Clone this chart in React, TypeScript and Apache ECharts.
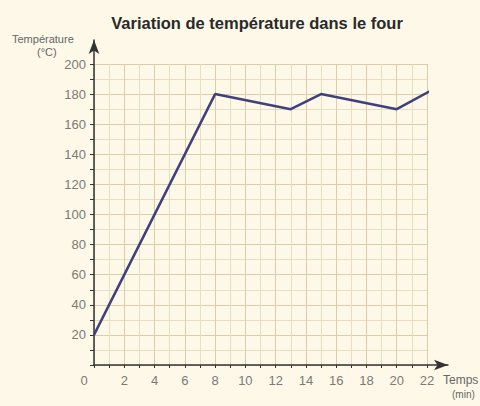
import React, { useEffect, useRef } from "react";
import * as echarts from "echarts";

const title = "Variation de température dans le four";
const yName = ["Température", "(°C)"];
const xName = ["Temps", "(min)"];
const timeMin = [0, 8, 13, 15, 20, 22.2];
const tempC = [20, 180, 170, 180, 170, 182];
const xMax = 22;
const yMax = 200;

const FONT = "'Liberation Sans Narrow', 'Arial Narrow', 'Liberation Sans', sans-serif";
const LABEL_COLOR = "#7a7a7a";
const AXIS_COLOR = "#333333";

export default function App() {
  const ref = useRef<HTMLDivElement>(null);
  useEffect(() => {
    if (!ref.current) return;
    const chart = echarts.init(ref.current, undefined, { renderer: "svg" });
    const data = timeMin.map((t, i) => [t, tempC[i]]);
    const plotLeft = 94;
    const plotTop = 64;
    const plotRight = 480 - 427;
    const plotBottom = 406 - 365;
    chart.setOption({
      animation: false,
      backgroundColor: "#fdf8e7",
      title: {
        text: title,
        left: 252,
        top: 9,
        textAlign: "center",
        textStyle: { fontSize: 16.5, fontWeight: 900, color: "#2a2a2a", fontFamily: "'Liberation Sans', Arial, sans-serif" },
      },
      grid: [
        { left: plotLeft, top: plotTop, right: plotRight, bottom: plotBottom },
        { left: plotLeft, top: 40, right: 480 - 448, bottom: plotBottom },
      ],
      xAxis: [
        {
          type: "value",
          gridIndex: 0,
          min: 0,
          max: xMax,
          interval: 2,
          axisLine: { show: false },
          axisTick: { show: true, length: 3, lineStyle: { color: AXIS_COLOR } },
          minorTick: { show: true, splitNumber: 2, length: 3, lineStyle: { color: AXIS_COLOR } },
          splitLine: { show: true, lineStyle: { color: "#dccda8", width: 1 } },
          minorSplitLine: { show: true, lineStyle: { color: "#e9dec2", width: 1 } },
          axisLabel: {
            margin: 9,
            color: LABEL_COLOR,
            fontSize: 13,
            fontFamily: FONT,
            formatter: (v: number) => (v === 0 ? "{z|0}" : String(v)),
            rich: { z: { padding: [0, 20, 0, 0], color: LABEL_COLOR, fontSize: 13, fontFamily: FONT } },
          },
        },
        {
          type: "value",
          gridIndex: 1,
          min: 0,
          max: 1,
          axisLine: {
            show: true,
            symbol: ["none", "arrow"],
            symbolSize: [8, 14],
            lineStyle: { color: AXIS_COLOR, width: 1.5 },
          },
          axisTick: { show: false },
          axisLabel: { show: false },
          splitLine: { show: false },
        },
        {
          type: "value",
          gridIndex: 0,
          min: 0,
          max: xMax,
          interval: 1,
          axisLine: { show: false },
          axisTick: { show: true, inside: true, length: 3, lineStyle: { color: AXIS_COLOR } },
          axisLabel: { show: false },
          splitLine: { show: false },
        },
      ],
      yAxis: [
        {
          type: "value",
          gridIndex: 0,
          min: 0,
          max: yMax,
          interval: 20,
          axisLine: { show: false },
          axisTick: { show: true, length: 4, lineStyle: { color: AXIS_COLOR } },
          minorTick: { show: true, splitNumber: 2, length: 4, lineStyle: { color: AXIS_COLOR } },
          splitLine: { show: true, lineStyle: { color: "#dccda8", width: 1 } },
          minorSplitLine: { show: true, lineStyle: { color: "#e9dec2", width: 1 } },
          axisLabel: {
            margin: 8,
            color: LABEL_COLOR,
            fontSize: 13,
            fontFamily: FONT,
            formatter: (v: number) => (v === 0 ? "" : String(v)),
          },
        },
        {
          type: "value",
          gridIndex: 1,
          min: 0,
          max: 1,
          axisLine: {
            show: true,
            symbol: ["none", "arrow"],
            symbolSize: [8, 14],
            lineStyle: { color: AXIS_COLOR, width: 1.5 },
          },
          axisTick: { show: false },
          axisLabel: { show: false },
          splitLine: { show: false },
        },
        {
          type: "value",
          gridIndex: 0,
          min: 0,
          max: yMax,
          interval: 10,
          axisLine: { show: false },
          axisTick: { show: true, inside: true, length: 3, lineStyle: { color: AXIS_COLOR } },
          axisLabel: { show: false },
          splitLine: { show: false },
        },
      ],
      graphic: [
        {
          type: "text",
          left: 12,
          top: 33,
          style: { text: yName[0], fill: "#666", fontSize: 11, fontFamily: FONT },
        },
        {
          type: "text",
          left: 37,
          top: 46,
          style: { text: yName[1], fill: "#666", fontSize: 11, fontFamily: FONT },
        },
        {
          type: "text",
          left: 443,
          top: 374,
          style: { text: xName[0], fill: "#666", fontSize: 12, fontFamily: FONT },
        },
        {
          type: "text",
          left: 452,
          top: 389,
          style: { text: xName[1], fill: "#666", fontSize: 10, fontFamily: FONT },
        },
      ],
      series: [
        {
          type: "line",
          xAxisIndex: 0,
          yAxisIndex: 0,
          data,
          clip: false,
          symbol: "none",
          lineStyle: { color: "#3f407e", width: 2.5 },
          z: 5,
        },
      ],
    });
    return () => chart.dispose();
  }, []);
  return <div ref={ref} style={{ position: "fixed", left: 0, top: 0, width: 480, height: 406 }} />;
}
